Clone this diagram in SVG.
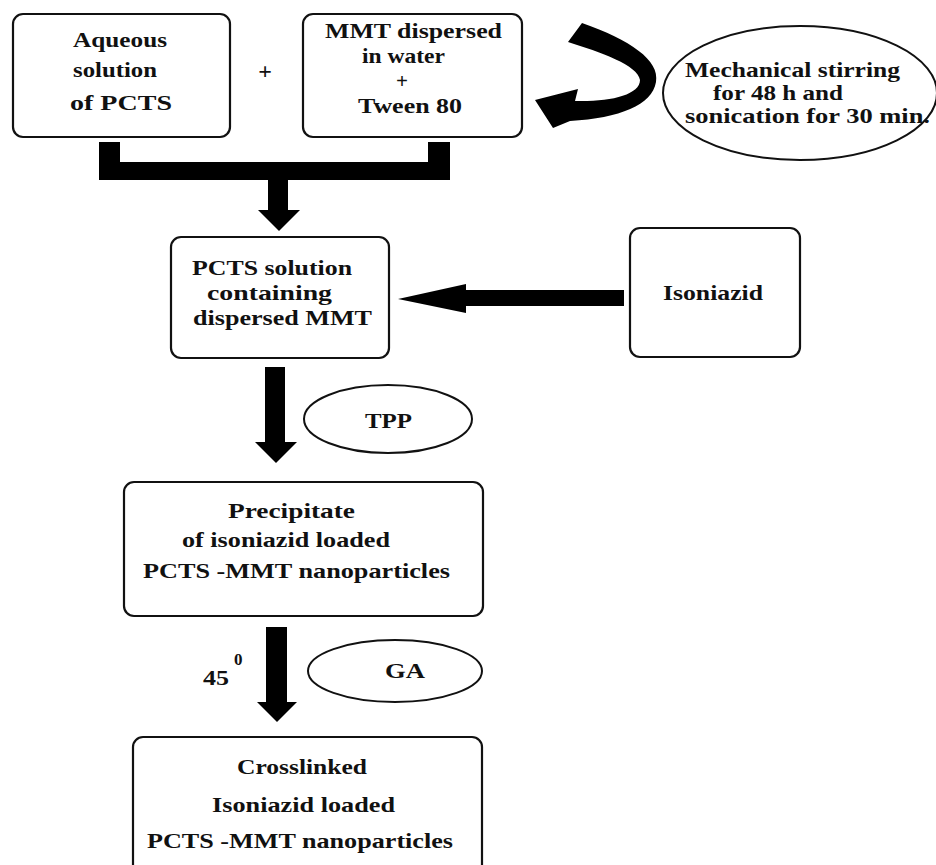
<svg xmlns="http://www.w3.org/2000/svg" width="936" height="865" viewBox="0 0 936 865">
<style>
.box{fill:#fff;stroke:#111;stroke-width:2.2}
.ell{fill:#fff;stroke:#111;stroke-width:2}
.t{font-family:"Liberation Serif","Times New Roman",serif;font-weight:bold;font-size:21px;fill:#111}
.arr{fill:#000;stroke:none}
</style>
<rect width="936" height="865" fill="#fff"/>
<g id="node-aqueous">
<rect class="box" x="13" y="14" width="217" height="123" rx="10"/>
<text class="t" x="73" y="47" textLength="94" lengthAdjust="spacingAndGlyphs">Aqueous</text>
<text class="t" x="73" y="77" textLength="84" lengthAdjust="spacingAndGlyphs">solution</text>
<text class="t" x="70" y="110" textLength="102" lengthAdjust="spacingAndGlyphs">of  PCTS</text>
</g>
<g id="plus">
<text class="t" x="265" y="79" text-anchor="middle" style="font-size:24px">+</text>
</g>
<g id="node-mmt">
<rect class="box" x="303" y="14" width="219" height="123" rx="10"/>
<text class="t" x="325" y="38" textLength="177" lengthAdjust="spacingAndGlyphs">MMT dispersed</text>
<text class="t" x="362" y="63" textLength="83" lengthAdjust="spacingAndGlyphs">in water</text>
<text class="t" x="402" y="88" text-anchor="middle">+</text>
<text class="t" x="358" y="113" textLength="104" lengthAdjust="spacingAndGlyphs">Tween 80</text>
</g>
<g id="node-stirring">
<ellipse class="ell" cx="800" cy="93" rx="137" ry="67"/>
<text class="t" x="685" y="77" textLength="215" lengthAdjust="spacingAndGlyphs">Mechanical stirring</text>
<text class="t" x="713" y="100" textLength="130" lengthAdjust="spacingAndGlyphs">for 48 h and</text>
<text class="t" x="685" y="123" textLength="245" lengthAdjust="spacingAndGlyphs">sonication for 30 min.</text>
</g>
<g id="node-pcts-solution">
<rect class="box" x="171" y="237" width="218" height="121" rx="10"/>
<text class="t" x="192" y="275" textLength="160" lengthAdjust="spacingAndGlyphs">PCTS solution</text>
<text class="t" x="207" y="300" textLength="125" lengthAdjust="spacingAndGlyphs">containing</text>
<text class="t" x="193" y="325" textLength="179" lengthAdjust="spacingAndGlyphs">dispersed MMT</text>
</g>
<g id="node-isoniazid">
<rect class="box" x="630" y="228" width="170" height="129" rx="10"/>
<text class="t" x="663" y="300" textLength="100" lengthAdjust="spacingAndGlyphs">Isoniazid</text>
</g>
<g id="node-tpp">
<ellipse class="ell" cx="388" cy="419" rx="84" ry="34"/>
<text class="t" x="365" y="428" textLength="47" lengthAdjust="spacingAndGlyphs">TPP</text>
</g>
<g id="node-precipitate">
<rect class="box" x="124" y="482" width="359" height="134" rx="10"/>
<text class="t" x="228" y="518" textLength="127" lengthAdjust="spacingAndGlyphs">Precipitate</text>
<text class="t" x="182" y="547" textLength="208" lengthAdjust="spacingAndGlyphs">of isoniazid loaded</text>
<text class="t" x="143" y="578" textLength="307" lengthAdjust="spacingAndGlyphs">PCTS -MMT nanoparticles</text>
</g>
<g id="node-ga">
<ellipse class="ell" cx="395" cy="671" rx="87" ry="31"/>
<text class="t" x="385" y="678" textLength="40" lengthAdjust="spacingAndGlyphs">GA</text>
</g>
<g id="label-45">
<text class="t" x="203" y="685" textLength="26" lengthAdjust="spacingAndGlyphs">45</text>
<text class="t" x="234" y="665" style="font-size:17px">0</text>
</g>
<g id="node-crosslinked">
<rect class="box" x="133" y="737" width="349" height="145" rx="10"/>
<text class="t" x="237" y="774" textLength="130" lengthAdjust="spacingAndGlyphs">Crosslinked</text>
<text class="t" x="212" y="812" textLength="183" lengthAdjust="spacingAndGlyphs">Isoniazid loaded</text>
<text class="t" x="147" y="848" textLength="306" lengthAdjust="spacingAndGlyphs">PCTS -MMT nanoparticles</text>
</g>
<g id="connectors">
<rect class="arr" x="99" y="142" width="21" height="38"/>
<rect class="arr" x="120" y="162" width="308" height="18"/>
<rect class="arr" x="428" y="142" width="22" height="38"/>
<polygon class="arr" points="268,180 288,180 288,210 300,210 279,231 258,210 268,210"/>
<path class="arr" d="M582,23 C630,40 660,60 656,82 C652,105 620,118 570,121 L553,128 L535,100 L578,89 L575,101 C610,102 640,95 640,80 C638,65 600,52 568,42 Z"/>
<polygon class="arr" points="398,299 466,284 466,290 624,290 624,306 466,306 466,313"/>
<polygon class="arr" points="265,367 285,367 285,442 297,442 276,463 255,442 265,442"/>
<polygon class="arr" points="266,627 287,627 287,702 297,702 277,722 257,702 266,702"/>
</g>
</svg>
